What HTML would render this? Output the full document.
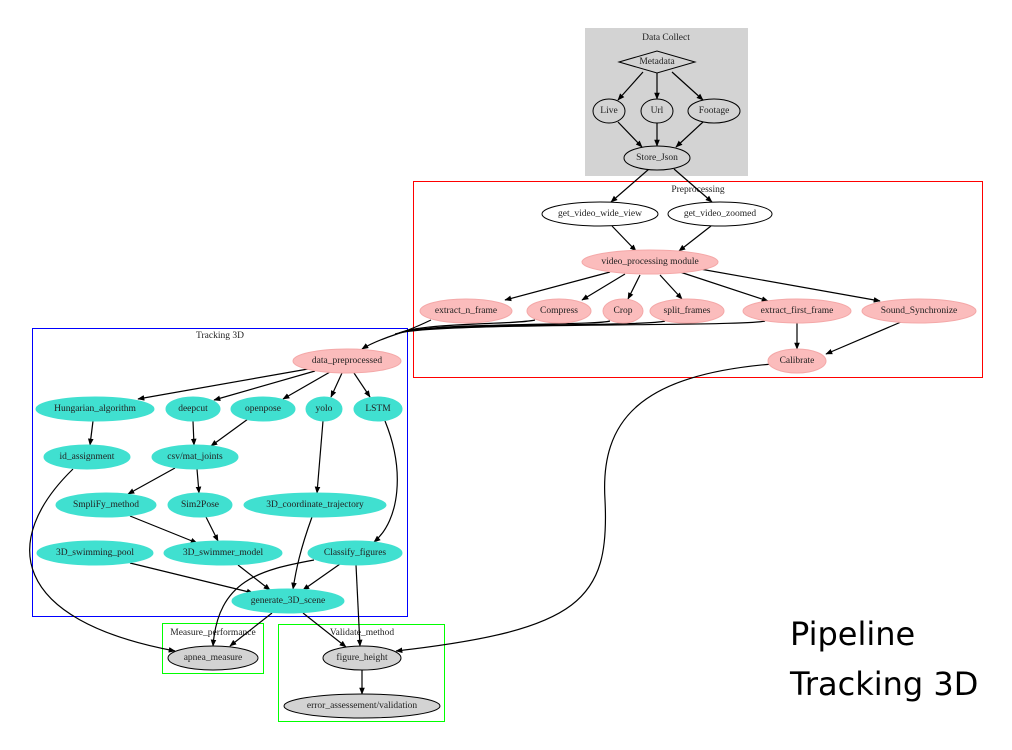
<!DOCTYPE html>
<html><head><meta charset="utf-8"><style>
html,body{margin:0;padding:0;background:#fff;width:1012px;height:750px;overflow:hidden}
svg text{font-family:"Liberation Serif",serif;font-size:9.5px;fill:#222;text-anchor:middle;dominant-baseline:central}
.e{fill:none;stroke:#000;stroke-width:1.2;marker-end:url(#a)}
.p{fill:#fbbcbc;stroke:#f4a8a8}
.t{fill:#40e0d0;stroke:#40e0d0}
.g{fill:#d3d3d3;stroke:#000}
.w{fill:#fff;stroke:#000}
</style></head><body>
<svg width="1012" height="750" viewBox="0 0 1012 750" xmlns="http://www.w3.org/2000/svg">
<defs><marker id="a" viewBox="0 0 10 10" refX="9" refY="5" markerWidth="7" markerHeight="7" orient="auto" markerUnits="userSpaceOnUse"><path d="M0,1 L10,5 L0,9 z" fill="#000"/></marker></defs>
<rect x="585" y="28" width="163" height="148" fill="#d3d3d3"/>
<text x="666" y="38">Data Collect</text>
<rect x="413.5" y="181.5" width="569" height="196" fill="none" stroke="#f00"/>
<text x="698" y="190">Preprocessing</text>
<rect x="32.5" y="328.5" width="375" height="288" fill="none" stroke="#00f"/>
<text x="220" y="336">Tracking 3D</text>
<rect x="162.5" y="623.5" width="101" height="50" fill="none" stroke="#0f0"/>
<text x="213" y="633">Measure_performance</text>
<rect x="278.5" y="624.5" width="166" height="97" fill="none" stroke="#0f0"/>
<text x="362" y="633">Validate_method</text>
<!-- edges -->
<path class="e" d="M643,72 L618,100"/>
<path class="e" d="M657,73 L657,99"/>
<path class="e" d="M672,72 L703,100"/>
<path class="e" d="M618,122 L642,147"/>
<path class="e" d="M657,123 L657,146"/>
<path class="e" d="M703,122 L676,147"/>
<path class="e" d="M649,169 L611,202"/>
<path class="e" d="M674,169 L712,202"/>
<path class="e" d="M612,226 L636,251"/>
<path class="e" d="M711,226 L679,251"/>
<path class="e" d="M610,272 L505,300"/>
<path class="e" d="M625,274 L582,300"/>
<path class="e" d="M640,275 L628,299"/>
<path class="e" d="M660,275 L682,299"/>
<path class="e" d="M680,272 L768,301"/>
<path class="e" d="M700,269 L880,301"/>
<path class="e" d="M797,323 L797,349"/>
<path class="e" d="M901,322 L826,354"/>
<path fill="none" stroke="#000" stroke-width="1.2" d="M431,320 C410,330 400,333 395,334"/>
<path fill="none" stroke="#000" stroke-width="1.2" d="M535,320 C515,325 420,322 397,334"/>
<path fill="none" stroke="#000" stroke-width="1.2" d="M610,321 C595,326 420,322 397,334"/>
<path fill="none" stroke="#000" stroke-width="1.2" d="M665,321 C645,327 420,322 397,334"/>
<path fill="none" stroke="#000" stroke-width="1.2" d="M765,321 C745,327 420,322 397,334"/>
<path class="e" d="M397,334 C385,338 370,344 362,349"/>
<path class="e" d="M308,369 L138,399"/>
<path class="e" d="M315,371 L214,400"/>
<path class="e" d="M330,372 L283,399"/>
<path class="e" d="M342,373 L331,397"/>
<path class="e" d="M354,373 L370,397"/>
<path class="e" d="M93,421 L90,445"/>
<path class="e" d="M193,421 L194,445"/>
<path class="e" d="M248,419 L211,446"/>
<path class="e" d="M175,468 L128,494"/>
<path class="e" d="M197,469 L199,493"/>
<path class="e" d="M323,421 L317,493"/>
<path class="e" d="M385,421 C405,470 400,520 374,542"/>
<path class="e" d="M130,516 L197,543"/>
<path class="e" d="M206,517 L218,541"/>
<path class="e" d="M130,563 L253,593"/>
<path class="e" d="M238,565 L270,590"/>
<path class="e" d="M312,517 C300,550 296,570 293,589"/>
<path class="e" d="M340,564 L303,590"/>
<path class="e" d="M314,560 C260,570 218,580 213,646"/>
<path class="e" d="M73,469 C0,540 10,620 175,651"/>
<path class="e" d="M272,613 L230,646"/>
<path class="e" d="M303,613 L346,647"/>
<path class="e" d="M356,565 L360,646"/>
<path class="e" d="M362,670 L362,694"/>
<path class="e" d="M772,364 C640,375 600,420 605,500 C610,600 580,630 396,651"/>
<!-- nodes -->
<polygon points="619,62 657,51 695,62 657,73" fill="#d3d3d3" stroke="#000"/>
<text x="657" y="62">Metadata</text>
<ellipse class="g" cx="609" cy="111" rx="16" ry="12"/><text x="609" y="111">Live</text>
<ellipse class="g" cx="657" cy="111" rx="16" ry="12"/><text x="657" y="111">Url</text>
<ellipse class="g" cx="714" cy="111" rx="26" ry="12"/><text x="714" y="111">Footage</text>
<ellipse class="g" cx="657" cy="158" rx="33" ry="12"/><text x="657" y="158">Store_Json</text>
<ellipse class="w" cx="600" cy="214" rx="58" ry="12"/><text x="600" y="214">get_video_wide_view</text>
<ellipse class="w" cx="720" cy="214" rx="52" ry="12"/><text x="720" y="214">get_video_zoomed</text>
<ellipse class="p" cx="650" cy="262" rx="68" ry="12"/><text x="650" y="262">video_processing module</text>
<ellipse class="p" cx="466" cy="311" rx="46" ry="12"/><text x="466" y="311">extract_n_frame</text>
<ellipse class="p" cx="559" cy="311" rx="32" ry="12"/><text x="559" y="311">Compress</text>
<ellipse class="p" cx="623" cy="311" rx="20" ry="12"/><text x="623" y="311">Crop</text>
<ellipse class="p" cx="687" cy="311" rx="37" ry="12"/><text x="687" y="311">split_frames</text>
<ellipse class="p" cx="797" cy="311" rx="54" ry="12"/><text x="797" y="311">extract_first_frame</text>
<ellipse class="p" cx="919" cy="311" rx="57" ry="12"/><text x="919" y="311">Sound_Synchronize</text>
<ellipse class="p" cx="797" cy="361" rx="29" ry="12"/><text x="797" y="361">Calibrate</text>
<ellipse class="p" cx="347" cy="361" rx="54" ry="12"/><text x="347" y="361">data_preprocessed</text>
<ellipse class="t" cx="95" cy="409" rx="59" ry="12"/><text x="95" y="409">Hungarian_algorithm</text>
<ellipse class="t" cx="193" cy="409" rx="27" ry="12"/><text x="193" y="409">deepcut</text>
<ellipse class="t" cx="263" cy="409" rx="32" ry="12"/><text x="263" y="409">openpose</text>
<ellipse class="t" cx="324" cy="409" rx="18" ry="12"/><text x="324" y="409">yolo</text>
<ellipse class="t" cx="378" cy="409" rx="24" ry="12"/><text x="378" y="409">LSTM</text>
<ellipse class="t" cx="87" cy="457" rx="43" ry="12"/><text x="87" y="457">id_assignment</text>
<ellipse class="t" cx="195" cy="457" rx="43" ry="12"/><text x="195" y="457">csv/mat_joints</text>
<ellipse class="t" cx="106" cy="505" rx="50" ry="12"/><text x="106" y="505">SmpliFy_method</text>
<ellipse class="t" cx="200" cy="505" rx="32" ry="12"/><text x="200" y="505">Sim2Pose</text>
<ellipse class="t" cx="315" cy="505" rx="71" ry="12"/><text x="315" y="505">3D_coordinate_trajectory</text>
<ellipse class="t" cx="95" cy="553" rx="58" ry="12"/><text x="95" y="553">3D_swimming_pool</text>
<ellipse class="t" cx="223" cy="553" rx="59" ry="12"/><text x="223" y="553">3D_swimmer_model</text>
<ellipse class="t" cx="355" cy="553" rx="47" ry="12"/><text x="355" y="553">Classify_figures</text>
<ellipse class="t" cx="288" cy="601" rx="56" ry="12"/><text x="288" y="601">generate_3D_scene</text>
<ellipse class="g" cx="213" cy="658" rx="45" ry="12"/><text x="213" y="658">apnea_measure</text>
<ellipse class="g" cx="362" cy="658" rx="39" ry="12"/><text x="362" y="658">figure_height</text>
<ellipse class="g" cx="362" cy="706" rx="78" ry="12"/><text x="362" y="706">error_assessement/validation</text>
<text x="790" y="634" style="font-family:'DejaVu Sans',sans-serif;font-size:32px;text-anchor:start;fill:#000">Pipeline</text>
<text x="790" y="684" style="font-family:'DejaVu Sans',sans-serif;font-size:32px;text-anchor:start;fill:#000">Tracking 3D</text>
</svg>
</body></html>
